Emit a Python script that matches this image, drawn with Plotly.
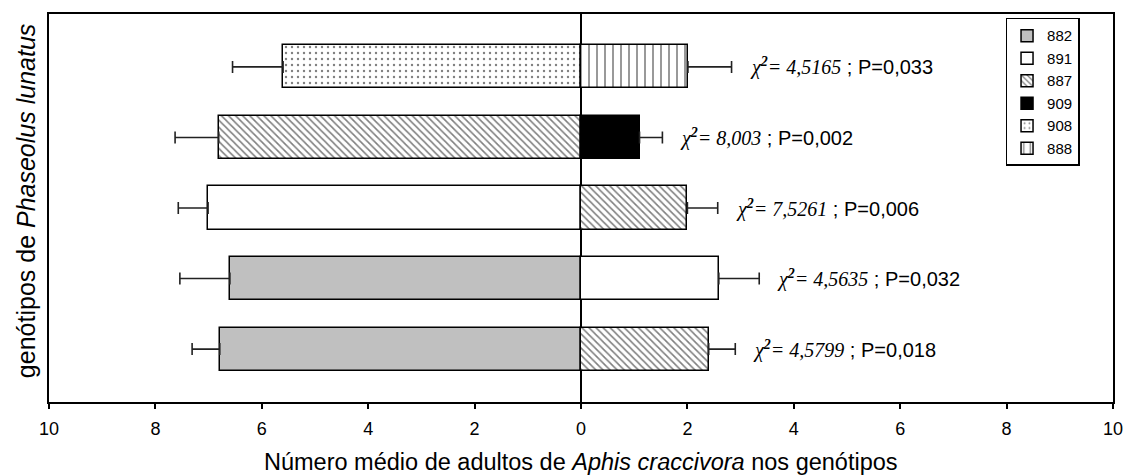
import plotly.graph_objects as go

# Rows of paired comparisons, bottom (0) to top (4)
rows = [0, 1, 2, 3, 4]
left_genotype = ["882", "882", "891", "887", "908"]
left_mean = [6.79, 6.60, 7.01, 6.81, 5.60]
left_se = [0.52, 0.94, 0.56, 0.82, 0.95]
right_genotype = ["887", "891", "887", "909", "888"]
right_mean = [2.40, 2.59, 2.00, 1.10, 2.01]
right_se = [0.50, 0.76, 0.57, 0.43, 0.82]
chi2 = ["4,5799", "4,5635", "7,5261", "8,003", "4,5165"]
p_values = ["0,018", "0,032", "0,006", "0,002", "0,033"]

legend_order = ["882", "891", "887", "909", "908", "888"]
x_tickvals = [-10, -8, -6, -4, -2, 0, 2, 4, 6, 8, 10]
x_ticktext = ["10", "8", "6", "4", "2", "0", "2", "4", "6", "8", "10"]

SANS = "Arial, Liberation Sans, sans-serif"
SERIF = "Liberation Serif, Times New Roman, serif"

fills = {
    "882": dict(color="#c0c0c0"),
    "891": dict(color="white"),
    "887": dict(color="white", pattern=dict(shape="\\", fgcolor="black", bgcolor="white", size=5, solidity=0.32)),
    "909": dict(color="black"),
    "908": dict(color="white", pattern=dict(shape=".", fgcolor="black", bgcolor="white", size=6, solidity=0.12)),
    "888": dict(color="white", pattern=dict(shape="|", fgcolor="black", bgcolor="white", size=8, solidity=0.2)),
}

fig = go.Figure()

for g in legend_order:
    xs, ys, plus, minus = [], [], [], []
    for r, lg, m, s in zip(rows, left_genotype, left_mean, left_se):
        if lg == g:
            xs.append(-m); ys.append(r); plus.append(0); minus.append(s)
    for r, rg, m, s in zip(rows, right_genotype, right_mean, right_se):
        if rg == g:
            xs.append(m); ys.append(r); plus.append(s); minus.append(0)
    fig.add_trace(go.Bar(
        orientation="h", x=xs, y=ys, name=g, width=0.61,
        marker=dict(**fills[g], line=dict(color="black", width=1.5)),
        error_x=dict(type="data", symmetric=False, array=plus, arrayminus=minus,
                     color="#222222", thickness=1.6, width=6),
    ))

# Chi-square test results next to each right-hand bar
for r, m, s, c, p in zip(rows, right_mean, right_se, chi2, p_values):
    text = (f"<span style='font-family:{SERIF}'><i>χ</i><sup><b><i>2</i></b></sup>"
            f"<i>= {c}</i></span> ; P={p}")
    fig.add_annotation(x=m + s + 0.3, y=r, xref="x", yref="y", text=text,
                       showarrow=False, xanchor="left", yanchor="middle",
                       font=dict(family=SANS, size=20, color="black"))

# Axis titles
fig.add_annotation(
    x=0.5, y=-0.155, xref="paper", yref="paper", showarrow=False,
    xanchor="center", yanchor="middle",
    text="Número médio de adultos de <i>Aphis craccivora</i> nos genótipos",
    font=dict(family=SANS, size=23.5, color="black"))
fig.add_annotation(
    x=-0.0215, y=0.518, xref="paper", yref="paper", showarrow=False,
    xanchor="center", yanchor="middle", textangle=-90,
    text="genótipos de <i>Phaseolus lunatus</i>",
    font=dict(family=SANS, size=25, color="black"))

fig.update_layout(
    width=1135, height=476,
    margin=dict(l=49, r=12, t=14, b=74),
    paper_bgcolor="white", plot_bgcolor="white",
    barmode="overlay", bargap=0,
    font=dict(family=SANS, color="black"),
    legend=dict(x=0.899, y=0.99, xanchor="left", yanchor="top",
                bordercolor="black", borderwidth=1.5, bgcolor="white",
                font=dict(family=SANS, size=15, color="black"),
                traceorder="normal"),
    xaxis=dict(range=[-10, 10], tickvals=x_tickvals, ticktext=x_ticktext,
               ticks="outside", ticklen=5, tickwidth=1.5, tickcolor="black",
               ticklabelstandoff=5,
               tickfont=dict(family=SANS, size=18, color="black"),
               showgrid=False, zeroline=True, zerolinecolor="black", zerolinewidth=1.5,
               showline=True, linecolor="black", linewidth=1.5, mirror=True),
    yaxis=dict(range=[-0.75, 4.75], showticklabels=False, ticks="",
               showgrid=False, zeroline=False,
               showline=True, linecolor="black", linewidth=1.5, mirror=True),
)

fig.write_html("out.html")
